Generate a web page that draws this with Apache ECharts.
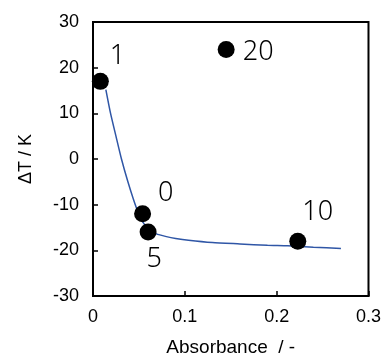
<!DOCTYPE html>
<html>
<head>
<meta charset="utf-8">
<script src="https://cdn.jsdelivr.net/npm/echarts@6/dist/echarts.min.js"></script>
<style>
  html, body { margin: 0; padding: 0; background: #fff; }
  #app { width: 384px; height: 362px; }
</style>
</head>
<body>
<div id="app"></div>
<script>
// measured points (absorbance, ΔT) and their labels
const pointLabels = ['1', '0', '5', '10', '20'];
const pointX = [0.008, 0.054, 0.060, 0.223, 0.145];
const pointY = [17, -12, -16, -18, 24];

// fitted curve
const curveX = [0.014, 0.019, 0.025, 0.031, 0.038, 0.044, 0.049, 0.054, 0.060, 0.069, 0.080, 0.090, 0.104, 0.130, 0.160, 0.190, 0.212, 0.240, 0.270];
const curveY = [15.2, 10.1, 5.0, 0.0, -5.0, -8.8, -11.6, -13.7, -15.3, -16.4, -17.0, -17.4, -17.8, -18.3, -18.6, -18.9, -19.0, -19.3, -19.6];

const xTicks = [0, 0.1, 0.2, 0.3];
const yTicks = [-30, -20, -10, 0, 10, 20, 30];

// label offsets from the marker centre, in pixels
const labelOffsets = {
    '1': [17, -25],
    '0': [23, -20],
    '5': [6, 27],
    '10': [20, -29],
    '20': [32, 3]
};

const chart = echarts.init(document.getElementById('app'), null, {renderer: 'canvas'});

const axisFont = {
    fontFamily: '"Liberation Sans", Arial, sans-serif',
    fontSize: 18,
    color: '#000'
};

const option = {
    animation: false,
    grid: {
        left: 93,
        right: 12,
        top: 22,
        bottom: 64,
        show: true,
        borderColor: '#000',
        borderWidth: 2,
        containLabel: false
    },
    xAxis: {
        type: 'value',
        min: xTicks[0],
        max: xTicks[xTicks.length - 1],
        interval: 0.1,
        name: 'Absorbance  / -',
        nameLocation: 'middle',
        nameGap: 42,
        nameTextStyle: Object.assign({}, axisFont, {fontSize: 19}),
        axisLine: {onZero: false, lineStyle: {color: '#000', width: 2}},
        axisTick: {inside: true, length: 5, lineStyle: {color: '#000', width: 1.5}},
        axisLabel: Object.assign({margin: 12, formatter: v => String(Math.round(v * 10) / 10)}, axisFont),
        splitLine: {show: false}
    },
    yAxis: {
        type: 'value',
        min: yTicks[0],
        max: yTicks[yTicks.length - 1],
        interval: 10,
        name: 'ΔT / K',
        nameLocation: 'middle',
        nameGap: 58,
        nameTextStyle: axisFont,
        axisLine: {onZero: false, lineStyle: {color: '#000', width: 2}},
        axisTick: {inside: true, length: 5, lineStyle: {color: '#000', width: 1.5}},
        axisLabel: Object.assign({margin: 14}, axisFont),
        splitLine: {show: false}
    },
    series: [
        {
            type: 'line',
            data: curveX.map((x, i) => [x, curveY[i]]),
            smooth: 0.2,
            showSymbol: false,
            lineStyle: {color: '#2f56a6', width: 1.5},
            silent: true,
            z: 2
        },
        {
            type: 'scatter',
            symbolSize: 17,
            itemStyle: {color: '#000', opacity: 1},
            z: 3,
            data: pointX.map((x, i) => ({
                value: [x, pointY[i]],
                label: {
                    show: true,
                    formatter: pointLabels[i],
                    position: 'inside',
                    offset: labelOffsets[pointLabels[i]],
                    align: 'center',
                    verticalAlign: 'middle',
                    fontFamily: '"Noto Sans", "Open Sans", sans-serif',
                    fontWeight: 300,
                    fontSize: 27,
                    color: '#000',
                    textBorderWidth: 0
                }
            }))
        }
    ]
};

chart.setOption(option);
</script>
</body>
</html>
